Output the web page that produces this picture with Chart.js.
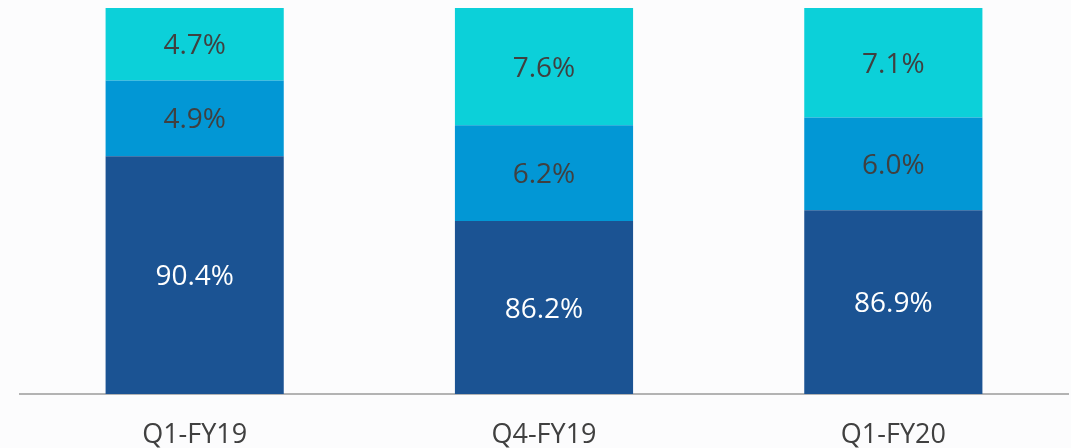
<!DOCTYPE html>
<html>
<head>
<meta charset="utf-8">
<script src="https://cdn.jsdelivr.net/npm/chart.js@4/dist/chart.umd.min.js"></script>
<style>
  html, body { margin: 0; padding: 0; background: #fcfcfd; }
  #wrap { width: 1071px; height: 448px; }
</style>
</head>
<body>
<div id="wrap"><canvas id="grafic"></canvas></div>
<script>
const categories = ['Q1-FY19', 'Q4-FY19', 'Q1-FY20'];
const serieBase = [90.4, 86.2, 86.9];
const serieMitja = [4.9, 6.2, 6.0];
const serieTop = [4.7, 7.6, 7.1];

// etiquetes centrades dins de cada tram visible de la barra
const etiquetes = {
    id: 'etiquetes',
    afterDatasetsDraw(chart) {
        const { ctx, chartArea } = chart;
        ctx.save();
        ctx.font = '28px "Open Sans"';
        ctx.textAlign = 'center';
        ctx.textBaseline = 'middle';
        chart.data.datasets.forEach((ds, i) => {
            const meta = chart.getDatasetMeta(i);
            meta.data.forEach((bar, j) => {
                const { x, y, base } = bar.getProps(['x', 'y', 'base'], true);
                const baix = Math.min(base, chartArea.bottom);
                const dalt = Math.max(y, chartArea.top);
                ctx.fillStyle = i === 0 ? '#ffffff' : '#404040';
                ctx.fillText(ds.data[j].toFixed(1) + '%', x, (baix + dalt) / 2 + 2);
            });
        });
        ctx.restore();
    }
};

new Chart(document.getElementById('grafic'), {
    type: 'bar',
    data: {
        labels: categories,
        datasets: [
            { data: serieBase, backgroundColor: '#1b5393' },
            { data: serieMitja, backgroundColor: '#0297d5' },
            { data: serieTop, backgroundColor: '#0cd0d9' }
        ]
    },
    options: {
        responsive: true,
        maintainAspectRatio: false,
        animation: false,
        layout: { padding: { left: 20, right: 3, top: 8, bottom: 0 } },
        datasets: { bar: { categoryPercentage: 1, barPercentage: 0.51 } },
        plugins: { legend: { display: false }, tooltip: { enabled: false } },
        scales: {
            x: {
                stacked: true,
                grid: { display: false, drawTicks: false },
                border: { display: true, color: '#b3b3b3', width: 2 },
                ticks: { color: '#404040', font: { family: 'Open Sans', size: 27 }, padding: 25 },
                afterFit: axis => { axis.height = 54; }
            },
            y: {
                stacked: true,
                display: false,
                min: 75,
                max: 100
            }
        }
    },
    plugins: [etiquetes]
});
</script>
</body>
</html>
